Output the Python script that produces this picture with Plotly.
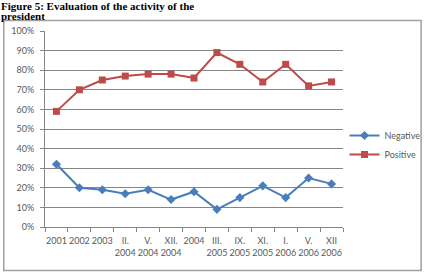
import plotly.graph_objects as go

categories = ["2001", "2002", "2003", "II.<br>2004", "V.<br>2004", "XII.<br>2004", "2004",
              "III.<br>2005", "IX.<br>2005", "XI.<br>2005", "I.<br>2006", "V.<br>2006", "XII<br>2006"]
negative = [32, 20, 19, 17, 19, 14, 18, 9, 15, 21, 15, 25, 22]
positive = [59, 70, 75, 77, 78, 78, 76, 89, 83, 74, 83, 72, 74]
y_ticks = [0, 10, 20, 30, 40, 50, 60, 70, 80, 90, 100]
y_tick_labels = [f"{v}%" for v in y_ticks]

W, H = 438, 273
L, R, T, B = 45, 352, 31, 227
pw, ph = R - L, B - T

def px(x):
    return (x - L) / pw

def py(y):
    return (B - y) / ph

tick_color = "#595959"
font = dict(family="Lato, 'Open Sans', sans-serif", size=9, color=tick_color)

fig = go.Figure()
fig.add_trace(go.Scatter(x=categories, y=negative, name="Negative", mode="lines+markers",
                         line=dict(color="#4A7EBB", width=2),
                         marker=dict(symbol="diamond", size=7, color="#4A7EBB")))
fig.add_trace(go.Scatter(x=categories, y=positive, name="Positive", mode="lines+markers",
                         line=dict(color="#BE4B48", width=2),
                         marker=dict(symbol="square", size=7, color="#BE4B48")))

fig.update_layout(
    width=W, height=H,
    margin=dict(l=L, r=W - R, t=T, b=H - B, pad=0),
    paper_bgcolor="white", plot_bgcolor="white",
    font=font,
    showlegend=True,
    legend=dict(x=px(437), y=py(121), xanchor="right", yanchor="top",
                font=dict(family="Lato, sans-serif", size=9, color=tick_color),
                itemwidth=30, bgcolor="rgba(0,0,0,0)"),
    xaxis=dict(type="category", showgrid=False, showline=True, linecolor="#868686",
               ticks="outside", ticklen=4, tickcolor="#868686", tickson="boundaries",
               tickangle=0, ticklabelstandoff=5, tickfont=dict(size=9, color=tick_color),
               range=[-0.5, len(categories) - 0.5], fixedrange=True),
    yaxis=dict(range=[0, 100], tickvals=y_ticks, ticktext=y_tick_labels, showgrid=True,
               gridcolor="#868686", gridwidth=1, showline=True, linecolor="#868686",
               ticks="outside", ticklen=4, tickcolor="#868686", zeroline=False,
               ticklabelstandoff=4, tickfont=dict(size=9, color=tick_color)),
    shapes=[dict(type="rect", xref="paper", yref="paper",
                 x0=px(2.5), x1=px(432.5), y0=py(270.5), y1=py(20.5),
                 line=dict(color="#A0A0A0", width=1.5), fillcolor="rgba(0,0,0,0)", layer="below")],
    annotations=[
        dict(text="<b>Figure 5: Evaluation of the activity of the</b>",
             xref="paper", yref="paper", x=px(-1), y=py(5.5), xanchor="left", yanchor="middle",
             showarrow=False, borderpad=0,
             font=dict(family="'Liberation Serif', serif", size=11, color="black")),
        dict(text="<b>president</b>",
             xref="paper", yref="paper", x=px(-1), y=py(16), xanchor="left", yanchor="middle",
             showarrow=False, borderpad=0,
             font=dict(family="'Liberation Serif', serif", size=11, color="black")),
    ],
)

fig.write_html("out.html")
